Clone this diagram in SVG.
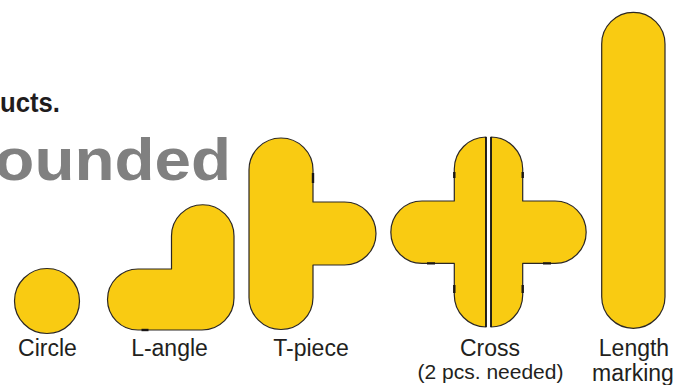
<svg xmlns="http://www.w3.org/2000/svg" width="687" height="385" viewBox="0 0 687 385">
  <style>
    .shape { fill: #F9CB12; stroke: #2b2724; stroke-width: 1.2; stroke-linejoin: round; }
    .tick { stroke: #1a1716; stroke-width: 2.4; fill: none; }
    .cut { stroke: #111; stroke-width: 1.6; fill: none; }
    .label { font-family: "Liberation Sans", Arial, sans-serif; font-size: 23px; fill: #231f20; text-anchor: middle; }
    .sub { font-size: 21px; }
    .title { font-family: "Liberation Sans", Arial, sans-serif; font-weight: bold; }
  </style>
  <rect width="687" height="385" fill="#ffffff"/>
  <g id="title">
    <text class="title" x="0" y="112" font-size="28" fill="#1f1c1d" textLength="60" lengthAdjust="spacingAndGlyphs">ucts.</text>
    <text class="title" x="-53" y="180" font-size="60" fill="#808080" textLength="284" lengthAdjust="spacingAndGlyphs">Rounded</text>
  </g>
  <g id="circle">
    <circle class="shape" cx="47" cy="301" r="32.5"/>
    <text class="label" x="47.5" y="356">Circle</text>
  </g>
  <g id="l-angle">
    <path class="shape" d="M171.5 236 A31.25 31.25 0 0 1 234 236 L234 298 A32 32 0 0 1 202 330 L138 330 A30.5 30.5 0 0 1 138 269 L171.5 269 Z"/>
    <path class="tick" d="M141.5 330 H148.5"/>
    <text class="label" x="169.5" y="356">L-angle</text>
  </g>
  <g id="t-piece">
    <path class="shape" d="M249 170 A32 32 0 0 1 313 170 L313 202 L344.5 202 A31.5 31.5 0 0 1 344.5 265 L313 265 L313 297.5 A32 32 0 0 1 249 297.5 Z"/>
    <path class="tick" d="M313 173 V183"/>
    <text class="label" x="311" y="356">T-piece</text>
  </g>
  <g id="cross">
    <path class="shape" d="M486 137 A32 32 0 0 0 454.3 169 L454.3 201 L422 201 A31.2 31.2 0 0 0 422 263.4 L454.3 263.4 L454.3 295 A32 32 0 0 0 486 327 Z"/>
    <path class="shape" d="M491 137 A32 32 0 0 1 522.7 169 L522.7 201 L555 201 A31.2 31.2 0 0 1 555 263.4 L522.7 263.4 L522.7 295 A32 32 0 0 1 491 327 Z"/>
    <path class="cut" d="M486 137 V327 M491 137 V327"/>
    <path class="tick" d="M454.3 172 V178 M454.3 285 V293 M522.7 172 V178 M522.7 285 V293 M427 263.4 H435 M543 263.4 H551"/>
    <text class="label" x="490" y="356">Cross</text>
    <text class="label sub" x="490.5" y="379">(2 pcs. needed)</text>
  </g>
  <g id="length-marking">
    <rect class="shape" x="601.7" y="12.3" width="63.3" height="316" rx="31.65" ry="31.65"/>
    <text class="label" x="634" y="356">Length</text>
    <text class="label" x="633" y="381">marking</text>
  </g>
  <g id="connectors"/>
</svg>
